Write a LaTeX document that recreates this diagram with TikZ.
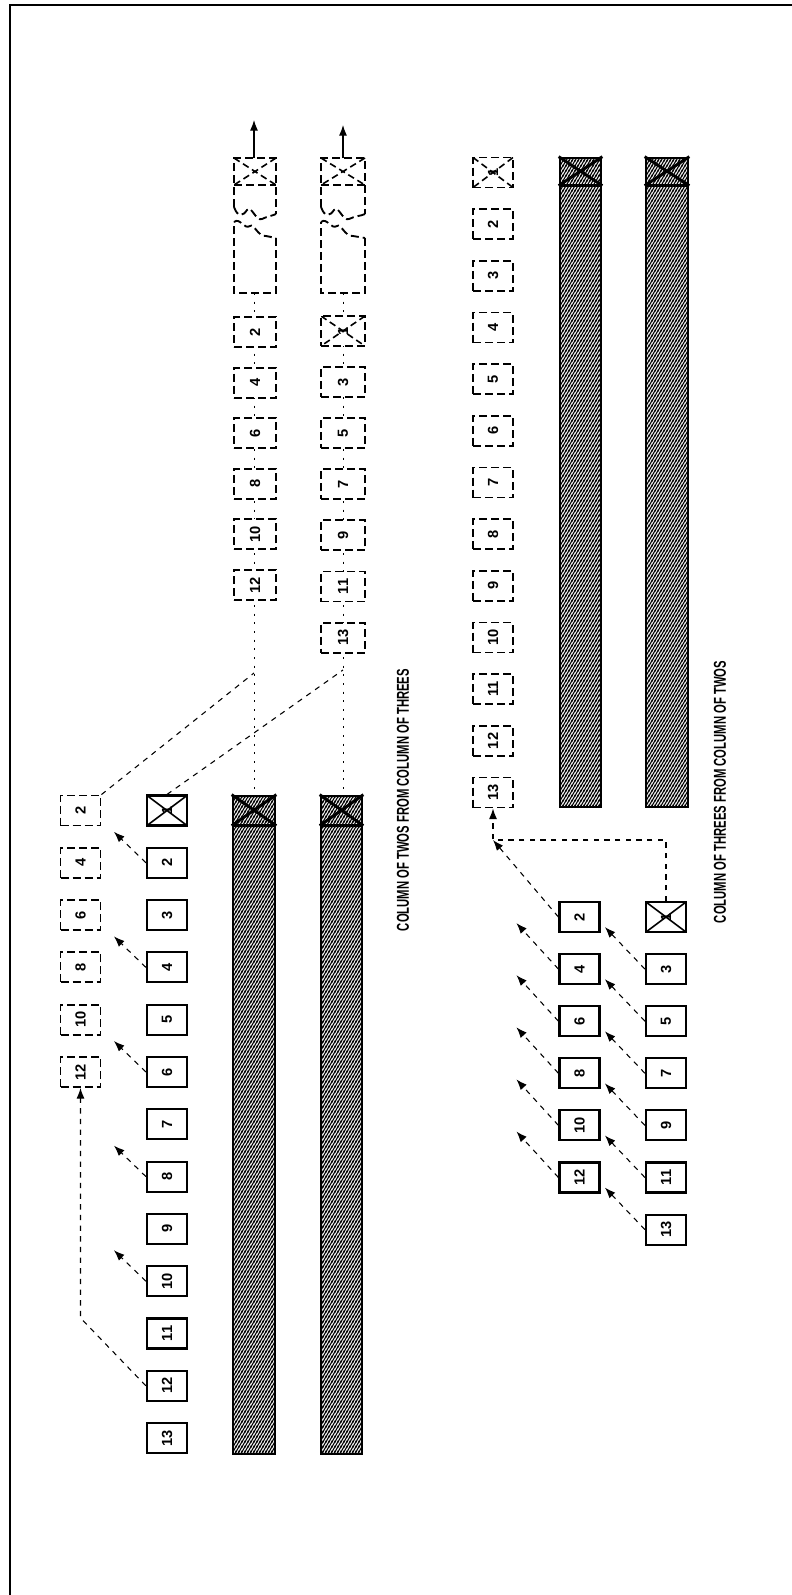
\documentclass[tikz,border=0pt]{standalone}
\usepackage{fontspec}
\usepackage{graphicx}
\setmainfont{Liberation Sans}
\usetikzlibrary{arrows.meta,patterns.meta,calc}
\pgfdeclarelayer{bg}
\pgfsetlayers{bg,main}
\tikzdeclarepattern{
  name=hatchbar,
  type=uncolored,
  bounding box={(0pt,0pt) and (2.4pt,4pt)},
  tile size={(2.4pt,4pt)},
  code={
    \pgfsetlinewidth{1pt}
    \pgfpathmoveto{\pgfqpoint{-0.6pt}{-1pt}}\pgfpathlineto{\pgfqpoint{3pt}{5pt}}
    \pgfpathmoveto{\pgfqpoint{-3pt}{-1pt}}\pgfpathlineto{\pgfqpoint{0.6pt}{5pt}}
    \pgfpathmoveto{\pgfqpoint{1.8pt}{-1pt}}\pgfpathlineto{\pgfqpoint{5.4pt}{5pt}}
    \pgfusepath{stroke}
  }
}
\newcommand\rlab[1]{\rotatebox{90}{#1}}
\begin{document}
\begin{tikzpicture}[x=0.75pt,y=-0.75pt,
  sbox/.style={draw, line width=1.6pt, fill=white, minimum width=30pt, minimum height=22.5pt, inner sep=0pt, font=\fontsize{11}{12}\selectfont\bfseries},
  dbox/.style={sbox, line width=1.4pt, dash pattern=on 6pt off 3pt},
  xmark/.style={path picture={\draw[line width=1.2pt] (path picture bounding box.north west) -- (path picture bounding box.south east) (path picture bounding box.north east) -- (path picture bounding box.south west);}},
  dxmark/.style={path picture={\draw[line width=1.2pt, dash pattern=on 5pt off 3pt] (path picture bounding box.north west) -- (path picture bounding box.south east) (path picture bounding box.north east) -- (path picture bounding box.south west);}},
  bar/.style={draw, line width=2pt, pattern=hatchbar, pattern color=black, inner sep=0pt},
  cross/.style={line width=2.2pt},
  conn/.style={line width=0.8pt, dash pattern=on 4pt off 4pt},
  arr/.style={conn, -{Latex[length=8pt,width=6pt]}},
  uparr/.style={line width=0.8pt, -{Latex[length=8pt,width=6pt]}},
  dotl/.style={line width=0.7pt, dash pattern=on 1.5pt off 5pt},
  dline/.style={line width=1.4pt, dash pattern=on 6pt off 3pt},
  caption/.style={rotate=90, inner sep=0pt, font=\bfseries}
]
\useasboundingbox (0,0) rectangle (792,1595);
% frame
\draw[line width=1pt] (10,1595) -- (10,5) -- (792,5);

% ---------------- left group: column of threes ----------------
\node[sbox,xmark] (S1) at (167,810.5) {\rlab{1}};
\foreach \k [evaluate=\k as \y using 810.5+52.3*(\k-1)] in {2,...,13}
  \node[sbox] (S\k) at (167,\y) {\rlab{\k}};
% far-left dashed column (twos)
\foreach \r [evaluate=\r as \lab using int(2*\r+2), evaluate=\r as \y using 810.5+52.3*\r] in {0,...,5}
  \node[dbox] (F\lab) at (80.5,\y) {\rlab{\lab}};
% hatched bars
\node[bar, minimum width=31.5pt, minimum height=493.5pt] (LB1) at (254,1125) {};
\node[bar, minimum width=30.75pt, minimum height=493.5pt] (LB2) at (341.5,1125) {};
\foreach \b in {LB1,LB2}{
  \draw[cross] ($(\b.north west)+(0,31)$) -- ($(\b.north east)+(0,31)$);
  \draw[cross] (\b.north west) -- ($(\b.north east)+(0,31)$);
  \draw[cross] (\b.north east) -- ($(\b.north west)+(0,31)$);
}
\node[caption] (T1) at (403,800) {\resizebox{196.5pt}{9pt}{COLUMN OF TWOS FROM COLUMN OF THREES}};

% upper-left: resulting column of twos
\foreach \r [evaluate=\r as \lab using int(2*\r+2), evaluate=\r as \y using 332+50.6*\r] in {0,...,5}
  \node[dbox, minimum width=31.5pt] (U\lab) at (255,\y) {\rlab{\lab}};
\node[dbox, dxmark, minimum width=33pt] (U1) at (343,331) {\rlab{1}};
\foreach \r [evaluate=\r as \lab using int(2*\r+1), evaluate=\r as \y using 331+51.1*\r] in {1,...,6}
  \node[dbox, minimum width=33pt] (U\lab) at (343,\y) {\rlab{\lab}};
% long (broken) dashed boxes with X cells
\foreach \a/\b/\n in {234/276/1, 321/365/2}{
  \draw[dline] (\a,207) -- (\a,158) -- (\b,158) -- (\b,214);
  \draw[dline] (\a,207) .. controls (\a+4,218) and (\a+9,216) .. (\a+13,210) .. controls (\a+17,204) and (\a+22,222) .. (\a+28,219) .. controls (\a+34,216) and (\b-4,216) .. (\b,214);
  \draw[dline] (\a,185) -- (\b,185);
  \draw[line width=1.2pt, dash pattern=on 5pt off 3pt] (\a,158) -- (\b,185) (\b,158) -- (\a,185);
  \draw[dline] (\b,238) -- (\b,293) -- (\a,293) -- (\a,222);
  \draw[dline] (\a,222) .. controls (\a+6,217) and (\a+10,230) .. (\a+16,226) .. controls (\a+20,223) and (\a+24,237) .. (\a+32,236) -- (\b,238);
}
\coordinate (W1t) at (254,158);
\coordinate (W2t) at (343,158);
\coordinate (W1b) at (254,293);
\coordinate (W2b) at (343,293);
\coordinate (W1a) at (254,120);
\coordinate (W2a) at (343,125);
\coordinate (A1) at (254,673);
\coordinate (B1) at (343,670);

% ---------------- right group: column of threes from column of twos ----------------
\node[dbox, dxmark] (R1) at (493,172.5) {\rlab{1}};
\foreach \k [evaluate=\k as \y using 172.5+51.67*(\k-1)] in {2,...,13}
  \node[dbox] (R\k) at (493,\y) {\rlab{\k}};
\node[bar, minimum width=30.75pt, minimum height=486.75pt] (RB1) at (580.5,482.5) {};
\node[bar, minimum width=31.5pt, minimum height=486.75pt] (RB2) at (667,482.5) {};
\foreach \b in {RB1,RB2}{
  \draw[cross] ($(\b.north west)+(0,29)$) -- ($(\b.north east)+(0,29)$);
  \draw[cross] (\b.north west) -- ($(\b.north east)+(0,29)$);
  \draw[cross] (\b.north east) -- ($(\b.north west)+(0,29)$);
}
\foreach \r [evaluate=\r as \lab using int(2*\r+2), evaluate=\r as \y using 917+52.1*\r] in {0,...,5}
  \node[sbox] (P\lab) at (579.5,\y) {\rlab{\lab}};
\node[sbox,xmark] (Q1) at (666,917) {\rlab{1}};
\foreach \r [evaluate=\r as \lab using int(2*\r+1), evaluate=\r as \y using 917+52.1*\r] in {1,...,6}
  \node[sbox] (Q\lab) at (666,\y) {\rlab{\lab}};
\node[caption] (T2) at (720,792) {\resizebox{196.5pt}{9pt}{COLUMN OF THREES FROM COLUMN OF TWOS}};
\coordinate (Lc) at (493,840);
\coordinate (Lf) at (80.5,1318);

% ---------------- connectors ----------------
\begin{pgfonlayer}{bg}
  \draw[dotl] (W1b) -- (LB1.north);
  \draw[dotl] (W2b) -- (343,796);
  \draw[conn] (F2.north east) -- (A1);
  \draw[conn] (S1.north) -- (B1);
\end{pgfonlayer}
\draw[uparr] (W1t) -- (W1a);
\draw[uparr] (W2t) -- (W2a);
\foreach \k in {2,4,6,8,10}
  \draw[arr] (S\k.west) -- ++(-32,-31);
\draw[arr] (S12.west) -- (Lf) -- (F12.south);
\foreach \k in {4,6,8,10,12}
  \draw[arr] (P\k.west) -- ++(-42,-46);
\draw[arr] (P2.west) -- (Lc);
\foreach \k in {3,5,7,9,11,13}
  \draw[arr] (Q\k.west) -- ++(-40,-42);
\draw[arr] (Q1.north) |- (Lc) -- (R13.south);
\end{tikzpicture}
\end{document}
